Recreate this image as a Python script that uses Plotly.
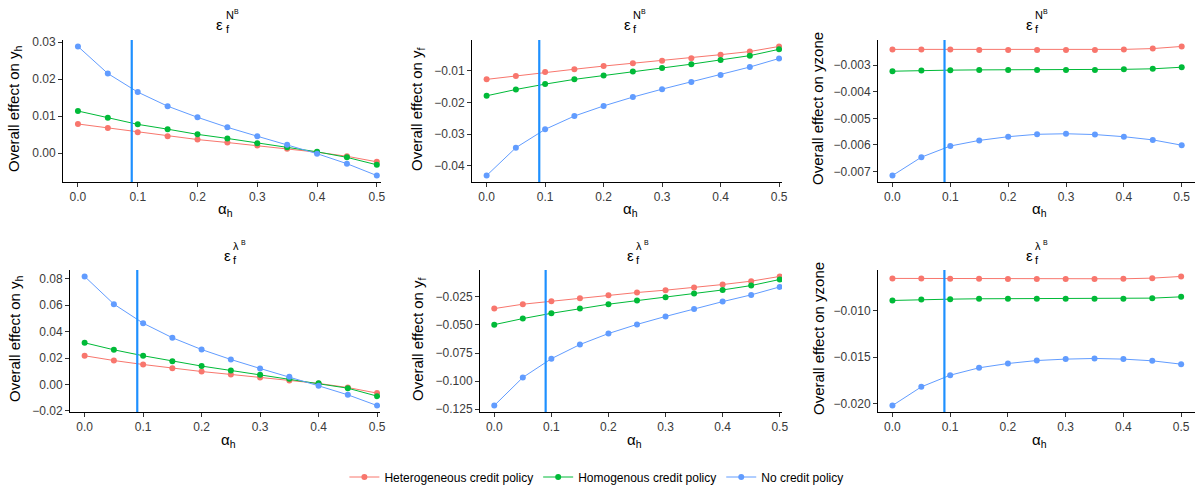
import plotly.graph_objects as go

# ---------------- data ----------------
alpha_h = [0.0, 0.05, 0.1, 0.15, 0.2, 0.25, 0.3, 0.35, 0.4, 0.45, 0.5]
series_names = ["Heterogeneous credit policy", "Homogenous credit policy", "No credit policy"]
series_colors = ["#F8766D", "#00BA38", "#619CFF"]
alpha_star = 0.09

# panel 1: yh, N^B
yh_NB_het = [0.0079, 0.0068, 0.0057, 0.0046, 0.0037, 0.0029, 0.0021, 0.0012, 0.0003, -0.0008, -0.0023]
yh_NB_hom = [0.0114, 0.0096, 0.0078, 0.0065, 0.0051, 0.0040, 0.0027, 0.0016, 0.0004, -0.0011, -0.0031]
yh_NB_none = [0.0288, 0.0215, 0.0165, 0.0127, 0.0097, 0.0070, 0.0046, 0.0023, -0.0001, -0.0028, -0.0060]
# panel 2: yf, N^B
yf_NB_het = [-0.0127, -0.0116, -0.0104, -0.0095, -0.0085, -0.0076, -0.0068, -0.0060, -0.0049, -0.0039, -0.0023]
yf_NB_hom = [-0.0179, -0.0159, -0.0142, -0.0127, -0.0115, -0.0102, -0.0091, -0.0079, -0.0066, -0.0052, -0.0032]
yf_NB_none = [-0.0431, -0.0343, -0.0285, -0.0243, -0.0211, -0.0183, -0.0158, -0.0135, -0.0113, -0.0088, -0.0061]
# panel 3: yzone, N^B
yz_NB_het = [-0.00241, -0.00241, -0.00241, -0.00243, -0.00243, -0.00243, -0.00243, -0.00243, -0.00241, -0.00238, -0.00230]
yz_NB_hom = [-0.00323, -0.00320, -0.00319, -0.00318, -0.00318, -0.00318, -0.00318, -0.00318, -0.00316, -0.00314, -0.00308]
yz_NB_none = [-0.00715, -0.00646, -0.00604, -0.00583, -0.00569, -0.00560, -0.00558, -0.00561, -0.00569, -0.00581, -0.00601]
# panel 4: yh, lambda^B
yh_LB_het = [0.0217, 0.0181, 0.0151, 0.0123, 0.0098, 0.0076, 0.0053, 0.0030, 0.0008, -0.0023, -0.0065]
yh_LB_hom = [0.0315, 0.0262, 0.0217, 0.0176, 0.0139, 0.0106, 0.0073, 0.0043, 0.0010, -0.0028, -0.0088]
yh_LB_none = [0.0816, 0.0607, 0.0463, 0.0353, 0.0264, 0.0189, 0.0121, 0.0058, -0.0010, -0.0078, -0.0159]
# panel 5: yf, lambda^B
yf_LB_het = [-0.0354, -0.0315, -0.0289, -0.0262, -0.0235, -0.0211, -0.0190, -0.0167, -0.0140, -0.0110, -0.0068]
yf_LB_hom = [-0.0497, -0.0443, -0.0396, -0.0354, -0.0315, -0.0283, -0.0253, -0.0220, -0.0188, -0.0149, -0.0095]
yf_LB_none = [-0.1217, -0.0967, -0.0800, -0.0674, -0.0576, -0.0495, -0.0424, -0.0357, -0.0292, -0.0232, -0.0161]
# panel 6: yzone, lambda^B
yz_LB_het = [-0.00657, -0.00657, -0.00661, -0.00661, -0.00664, -0.00664, -0.00664, -0.00664, -0.00661, -0.00654, -0.00636]
yz_LB_hom = [-0.00893, -0.00882, -0.00879, -0.00875, -0.00875, -0.00875, -0.00875, -0.00875, -0.00875, -0.00868, -0.00854]
yz_LB_none = [-0.02018, -0.01818, -0.01693, -0.01614, -0.01568, -0.01536, -0.01521, -0.01514, -0.01521, -0.01539, -0.01575]

panels = [
    dict(series=[yh_NB_het, yh_NB_hom, yh_NB_none], ylab="Overall effect on y<sub>h</sub>", shock="N",
         dtick=0.01, fmt=".2f"),
    dict(series=[yf_NB_het, yf_NB_hom, yf_NB_none], ylab="Overall effect on y<sub>f</sub>", shock="N",
         dtick=0.01, fmt=".2f"),
    dict(series=[yz_NB_het, yz_NB_hom, yz_NB_none], ylab="Overall effect on yzone", shock="N",
         dtick=0.001, fmt=".3f"),
    dict(series=[yh_LB_het, yh_LB_hom, yh_LB_none], ylab="Overall effect on y<sub>h</sub>", shock="λ",
         dtick=0.02, fmt=".2f"),
    dict(series=[yf_LB_het, yf_LB_hom, yf_LB_none], ylab="Overall effect on y<sub>f</sub>", shock="λ",
         dtick=0.025, fmt=".3f"),
    dict(series=[yz_LB_het, yz_LB_hom, yz_LB_none], ylab="Overall effect on yzone", shock="λ",
         dtick=0.005, fmt=".3f"),
]

# ---------------- layout geometry (pixels) ----------------
W, H = 1200, 491
px_x = [(63, 381), (472, 782), (878, 1195), (70, 380), (480, 782), (878, 1195)]
px_y = [(40, 182)] * 3 + [(270, 412)] * 3
x_right = [0.507, 0.505, 0.523, 0.505, 0.504, 0.524]
title_cx = [220, 627, 1029, 227, 630, 1029]
ylab_x = [15, 418, 818, 15, 418, 818]
xlab_y = [209, 209, 209, 440, 440, 440]


def fx(p):
    return p / W


def fy(p):
    return 1 - p / H


FONT = "Liberation Sans, Arial, sans-serif"
fig = go.Figure()
layout = dict(
    width=W, height=H, autosize=False,
    margin=dict(l=0, r=0, t=0, b=0, pad=0, autoexpand=False),
    paper_bgcolor="white", plot_bgcolor="white",
    font=dict(family=FONT, size=12, color="black"),
    showlegend=True,
    legend=dict(orientation="h", x=0.497, xanchor="center", y=fy(477), yanchor="middle",
                font=dict(size=12, color="black"), itemwidth=30, tracegroupgap=0),
)
annotations = []
shapes = []

for i, pnl in enumerate(panels):
    k = "" if i == 0 else str(i + 1)
    xa, ya = "x" + k, "y" + k
    for j, (vals, name, col) in enumerate(zip(pnl["series"], series_names, series_colors)):
        fig.add_trace(go.Scatter(
            x=alpha_h, y=vals, mode="lines+markers", name=name,
            line=dict(color=col, width=1), marker=dict(color=col, size=6),
            xaxis=xa, yaxis=ya, showlegend=(i == 0), legendgroup=name,
        ))
    allv = [v for s in pnl["series"] for v in s]
    lo, hi = min(allv), max(allv)
    pad = (hi - lo) * 0.05
    axis_common = dict(
        showline=True, linecolor="black", linewidth=1, mirror=False,
        ticks="outside", ticklen=4, tickcolor="#333333", tickwidth=1,
        showgrid=False, zeroline=False, automargin=False,
        tickfont=dict(size=12, color="#3a3a3a", family=FONT),
    )
    layout["xaxis" + k] = dict(
        axis_common, domain=[fx(px_x[i][0]), fx(px_x[i][1])], anchor=ya,
        range=[-0.025, x_right[i]], tick0=0, dtick=0.1, tickformat=".1f",
    )
    layout["yaxis" + k] = dict(
        axis_common, domain=[fy(px_y[i][1]), fy(px_y[i][0])], anchor=xa,
        range=[lo - pad, hi + pad], tick0=0, dtick=pnl["dtick"], tickformat=pnl["fmt"],
    )
    # vertical reference line
    shapes.append(dict(type="line", xref=xa, yref=ya + " domain", x0=alpha_star, x1=alpha_star,
                       y0=0, y1=1, line=dict(color="#1E90FF", width=2.2)))
    # axis titles
    cx = (px_x[i][0] + px_x[i][1]) / 2
    annotations.append(dict(text="α<sub>h</sub>", x=fx(cx + 3), y=fy(xlab_y[i]), xref="paper", yref="paper",
                            showarrow=False, xanchor="center", yanchor="middle",
                            font=dict(size=15, color="black")))
    cy = (px_y[i][0] + px_y[i][1]) / 2
    annotations.append(dict(text=pnl["ylab"], x=fx(ylab_x[i]), y=fy(cy - 2), xref="paper", yref="paper",
                            showarrow=False, xanchor="center", yanchor="middle", textangle=-90,
                            font=dict(size=15, color="black")))
    # panel title: epsilon_f^{N^B} / epsilon_f^{lambda^B}
    tx = title_cx[i]
    ty = 24 if i < 3 else 255
    annotations.append(dict(text="ε", x=fx(tx), y=fy(ty), xref="paper", yref="paper", showarrow=False,
                            xanchor="center", yanchor="middle", font=dict(size=15, color="black")))
    annotations.append(dict(text="f", x=fx(tx + 4), y=fy(ty + 5), xref="paper", yref="paper", showarrow=False,
                            xanchor="left", yanchor="middle", font=dict(size=11, color="black")))
    annotations.append(dict(text=pnl["shock"], x=fx(tx + 4), y=fy(ty - 9), xref="paper", yref="paper",
                            showarrow=False, xanchor="left", yanchor="middle",
                            font=dict(size=11, color="black")))
    annotations.append(dict(text="B", x=fx(tx + 12), y=fy(ty - 13), xref="paper", yref="paper",
                            showarrow=False, xanchor="left", yanchor="middle",
                            font=dict(size=7, color="black")))

layout["annotations"] = annotations
layout["shapes"] = shapes
fig.update_layout(**layout)
fig.write_html(
    "out.html",
    config={"displayModeBar": False},
    post_script=(
        "document.documentElement.style.margin='0';"
        "document.body.style.margin='0';document.body.style.padding='0';"
        "document.documentElement.style.overflow='hidden';"
    ),
)
